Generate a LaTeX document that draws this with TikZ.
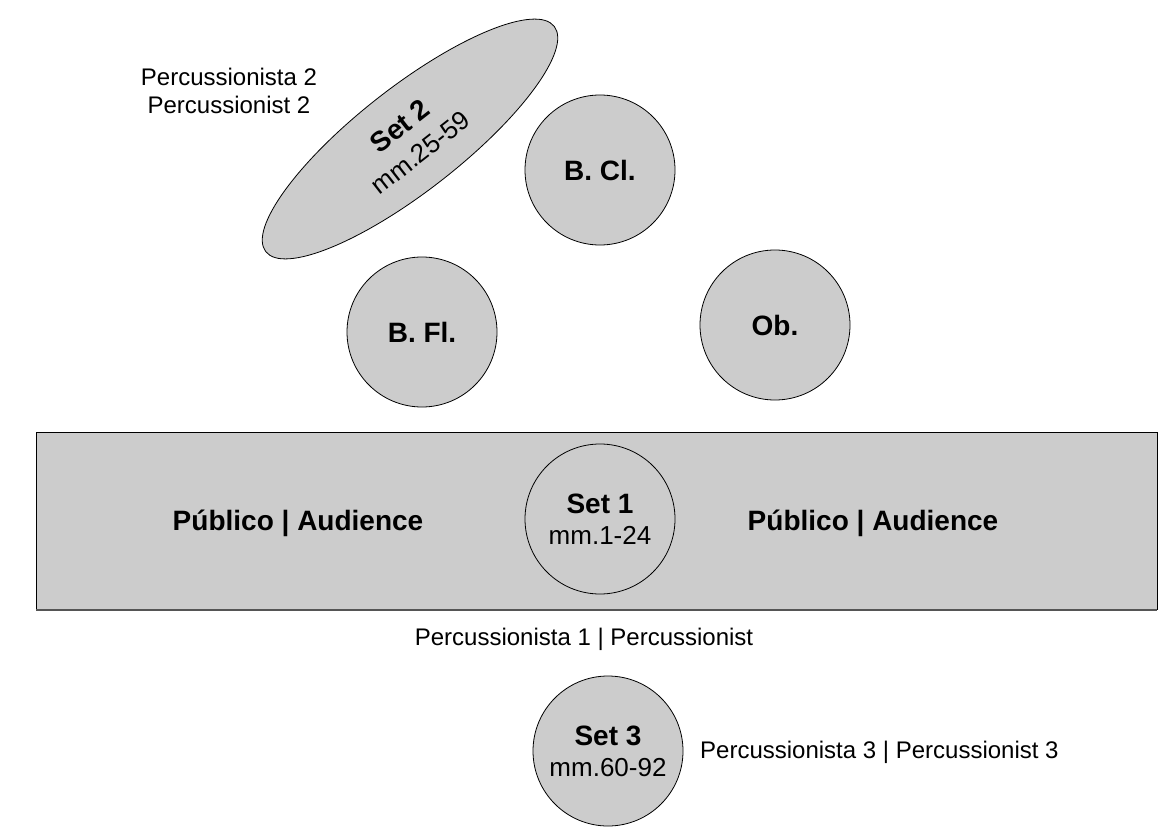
\documentclass[tikz,border=0pt]{standalone}
\usepackage{fontspec}
\setmainfont{Liberation Sans}
\usetikzlibrary{shapes.geometric}
\definecolor{standgray}{HTML}{CCCCCC}
\definecolor{edgegray}{HTML}{555555}

\newcommand\barsfont{\fontsize{26}{32}\selectfont\mdseries}

\begin{document}
\begin{tikzpicture}[
    x=1pt, y=-1pt,
    player/.style={circle, draw=black, fill=standgray, line width=0.8pt,
      minimum size=150pt, inner sep=0pt, align=center,
      font=\fontsize{28}{31}\selectfont\bfseries},
    note/.style={font=\fontsize{24}{28}\selectfont, align=center, inner sep=0pt}
  ]

    % Page frame
    \useasboundingbox (0,0) rectangle (1161,832);

    % Audience block
    \fill[standgray] (36,432) rectangle (1157,610);
    \draw[line width=0.8pt] (36,610) -- (36,432) -- (1157,432) -- (1157,610);
    \draw[line width=2pt, edgegray] (36,610) -- (1157,610);

    \node[font=\fontsize{28}{31}\selectfont\bfseries] (publeft) at (298,523) {Público | Audience};
    \node[font=\fontsize{28}{31}\selectfont\bfseries] (pubright) at (873,523) {Público | Audience};

    % Percussion set 2 (rotated)
    \node[ellipse, draw=black, fill=standgray, line width=0.8pt,
      minimum width=366pt, minimum height=104pt, inner sep=0pt,
      rotate=38, align=center, font=\fontsize{28}{33}\selectfont\bfseries]
      (settwo) at (410,139) {Set 2\\{\barsfont mm.25-59}};
    \node[note] (perctwo) at (229,91) {Percussionista 2\\Percussionist 2};

    % Winds
    \node[player] (bcl) at (600,170) {B. Cl.};
    \node[player] (bfl) at (422,332) {B. Fl.};
    \node[player] (ob) at (775,325) {Ob.};

    % Percussion set 1
    \node[player] (setone) at (600,519) {Set 1\\{\barsfont mm.1-24}};
    \node[note] (percone) at (584,639) {Percussionista 1 | Percussionist};

    % Percussion set 3
    \node[player] (setthree) at (608,751) {Set 3\\{\barsfont mm.60-92}};
    \node[note, anchor=west] (percthree) at (700,752) {Percussionista 3 | Percussionist 3};

  \end{tikzpicture}
\end{document}
